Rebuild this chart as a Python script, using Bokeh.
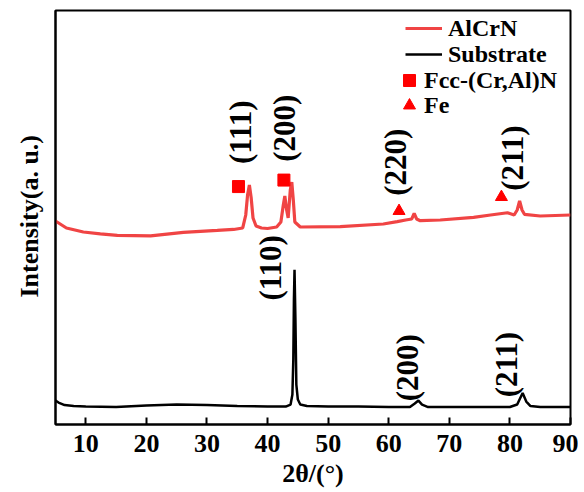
import math
from bokeh.plotting import figure
from bokeh.models import (Legend, LegendItem, ColumnDataSource, Range1d,
                          FixedTicker, Title)
from bokeh.core.properties import value
from bokeh.embed import file_html
from bokeh.resources import INLINE

# ---------------- data ----------------
sub_x = [5.0, 5.5, 6.5, 8, 10, 15, 20, 25, 30, 35, 40, 43, 43.8, 44.1, 44.25,
         44.35, 44.45, 44.6, 44.75, 45.0, 45.4, 46.5, 50, 55, 60, 63.5, 64.3,
         64.9, 65.5, 66.5, 70, 75, 80, 81.2, 82.1, 82.7, 83.4, 85, 90]
sub_y = [24, 22, 19.5, 18.5, 18, 17.5, 19, 20, 19.5, 18.5, 18, 18, 20, 30, 65,
         125, 155, 105, 40, 25, 20, 18.5, 18, 18, 17.5, 17.5, 21,
         24, 20, 17.5, 17.5, 17.5, 17.5, 20, 31.5, 23, 18.5, 17.5, 17.5]

film_x = [5.0, 6.8, 9.6, 12.4, 15.2, 20.7, 26.1, 31.7, 34.4, 35.9, 36.4, 36.7,
          37.0, 37.3, 37.6, 38.1, 39, 40, 41.5, 42.2, 42.6, 42.85, 43.15, 43.4,
          43.75, 44.0, 44.25, 44.5, 45.4, 52.0, 59.1, 61.4, 62.8, 63.8, 64.2,
          64.6, 65.2, 68.5, 74.0, 76.8, 79.6, 80.7, 81.2, 81.6, 82.0, 82.4, 85, 90]
film_y = [204, 197, 193, 191, 189.5, 189, 192.5, 194.5, 195.5, 197, 210, 230,
          240, 227, 207, 199, 197, 196.5, 198, 203, 220, 229, 215, 207,
          235, 243, 225, 203, 198, 198.3, 201, 203.3, 205, 206, 211.7,
          206, 204.3, 205, 207.7, 210, 212.3, 210, 215, 224, 215, 210.7, 209, 210]

fcc_x = [35.2, 42.7]
fcc_y = [238.5, 245]
fe_x = [61.7, 78.6]
fe_y = [214, 228]

film_lbl = ["(111)", "(200)", "(220)", "(211)"]
film_lbl_x = [35.5, 42.8, 61.1, 80.4]
film_lbl_y = [293, 297, 263, 267]

sub_lbl = ["(110)", "(200)", "(211)"]
sub_lbl_x = [40.5, 63.1, 79.4]
sub_lbl_y = [157, 57, 60]

x_ticks = [10, 20, 30, 40, 50, 60, 70, 80, 90]

legend_names = ["AlCrN", "Substrate", "Fcc-(Cr,Al)N", "Fe"]

FONT = "Liberation Serif"

p = figure(width=578, height=492, output_backend="svg", toolbar_location=None,
           x_range=Range1d(5, 90), y_range=Range1d(0, 415),
           min_border_left=55, min_border_right=8, min_border_top=10,
           min_border_bottom=68)

p.background_fill_color = "white"
p.border_fill_color = "white"
p.outline_line_color = "black"
p.outline_line_width = 2
p.xgrid.visible = False
p.ygrid.visible = False

# x axis
p.xaxis.ticker = FixedTicker(ticks=x_ticks)
p.xaxis.major_tick_in = 7
p.xaxis.major_tick_out = 0
p.xaxis.minor_tick_in = 0
p.xaxis.minor_tick_out = 0
p.xaxis.major_tick_line_width = 2
p.xaxis.axis_line_width = 2
p.xaxis.major_label_standoff = 10
p.xaxis.major_label_text_font = FONT
p.xaxis.major_label_text_font_style = "bold"
p.xaxis.major_label_text_font_size = "26px"
p.xaxis.major_label_text_color = "black"
p.xaxis.axis_label = "2θ/(°)"
p.xaxis.axis_label_text_font = FONT
p.xaxis.axis_label_text_font_style = "bold"
p.xaxis.axis_label_text_font_size = "26px"
p.xaxis.axis_label_text_color = "black"
p.xaxis.axis_label_standoff = 4

# y axis (no ticks, label drawn as a side title so it can be shifted)
p.yaxis.ticker = FixedTicker(ticks=[])
p.yaxis.major_tick_in = 0
p.yaxis.major_tick_out = 0
p.yaxis.minor_tick_in = 0
p.yaxis.minor_tick_out = 0
p.yaxis.axis_line_width = 2
p.yaxis.major_label_standoff = 0

ytitle = Title(text="Intensity(a. u.)", align="left", offset=127,
               text_font=FONT, text_font_style="bold",
               text_font_size="26px", text_color="black", standoff=23)
p.add_layout(ytitle, "left")

r_film = p.line(film_x, film_y, line_color="#f04444", line_width=3.2)
r_sub = p.line(sub_x, sub_y, line_color="black", line_width=2.5)
r_fcc = p.scatter(fcc_x, fcc_y, marker="square", size=12, color="#ff0000")
r_fe = p.scatter(fe_x, fe_y, marker="triangle", size=12, color="#ff0000")

src1 = ColumnDataSource(dict(x=film_lbl_x, y=film_lbl_y, t=film_lbl))
src2 = ColumnDataSource(dict(x=sub_lbl_x, y=sub_lbl_y, t=sub_lbl))
for src in (src1, src2):
    p.text(x="x", y="y", text="t", source=src, angle=math.pi / 2,
           text_align="center", text_baseline="middle",
           text_font=value(FONT), text_font_style="bold",
           text_font_size="31px", text_color="black")

# one single-item legend per row, so each row can sit where the reference has it
leg_specs = [
    (legend_names[0], r_film, (350, 380), 37, 6),
    (legend_names[1], r_sub, (350, 354), 37, 6),
    (legend_names[2], r_fcc, (339, 328), 30, -4),
    (legend_names[3], r_fe, (339, 303), 30, -4),
]
for name, rend, loc, gw, stand in leg_specs:
    leg = Legend(items=[LegendItem(label=name, renderers=[rend])],
                 location=loc, glyph_width=gw, glyph_height=32,
                 label_height=32, spacing=0, padding=0, margin=0,
                 label_standoff=stand, border_line_color=None,
                 background_fill_alpha=0,
                 label_text_font=FONT, label_text_font_style="bold",
                 label_text_font_size="24px", label_text_color="black")
    p.add_layout(leg, "center")

open("out.html", "w").write(file_html(p, INLINE))
